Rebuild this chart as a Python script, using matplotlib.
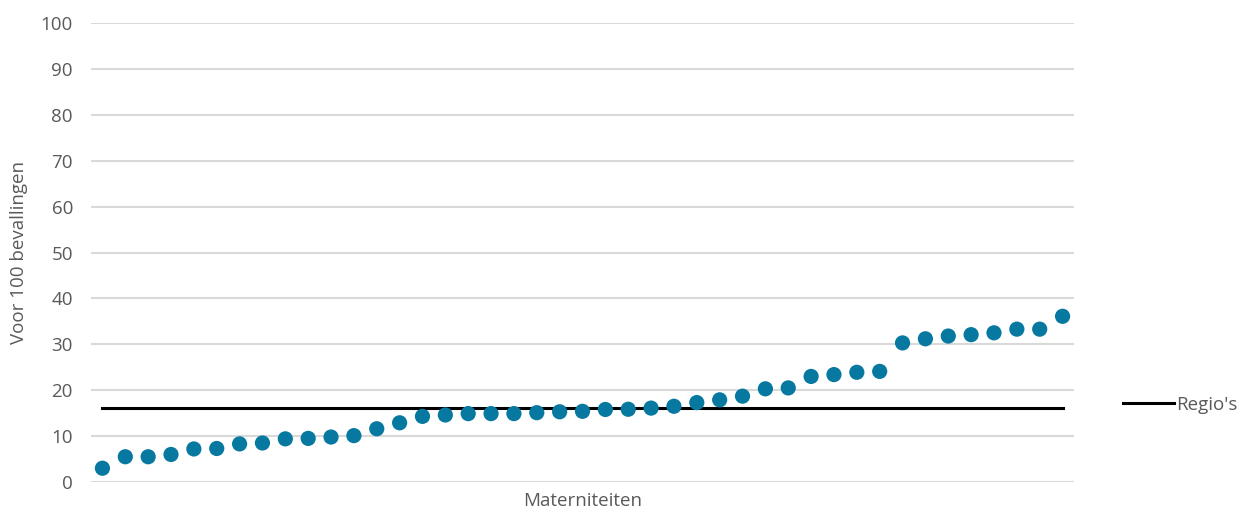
import matplotlib as mpl
mpl.use('Agg')
import matplotlib.pyplot as plt
import numpy as np

plt.rcParams['font.family'] = ['Open Sans', 'DejaVu Sans']

# percentage per maternity ward, sorted ascending
waarden = [3.0, 5.5, 5.5, 6.0, 7.2, 7.3, 8.3, 8.5, 9.4, 9.5,
           9.8, 10.1, 11.6, 12.9, 14.3, 14.6, 14.9, 14.9, 14.9, 15.1,
           15.3, 15.4, 15.8, 15.85, 16.1, 16.5, 17.3, 17.9, 18.7, 20.3,
           20.5, 23.0, 23.4, 23.9, 24.1, 30.3, 31.2, 31.8, 32.1, 32.5,
           33.3, 33.3, 36.1]
regio = 16.2
y_ticks = [0, 10, 20, 30, 40, 50, 60, 70, 80, 90, 100]

tekst_kleur = '#595959'
punt_kleur = '#0779A1'
fs = 13.5

fig = plt.figure(figsize=(12.57, 5.09), dpi=100)
ax = fig.add_axes([91 / 1257, 1 - 482 / 509, (1074 - 91) / 1257, (482 - 23) / 509])

x = np.arange(len(waarden))
ax.plot([x[0], x[-1]], [regio, regio], color='black', linewidth=2.2, label="Regio's", zorder=2)
ax.scatter(x, waarden, s=120, color=punt_kleur, edgecolors='none', zorder=3)

ax.set_xlim(-0.5, len(waarden) - 0.5)
ax.set_ylim(0, 100)
ax.set_yticks(y_ticks)
ax.set_xticks([])
ax.yaxis.grid(True, color='#D9D9D9', linewidth=1.5)
ax.set_axisbelow(True)
for s in ax.spines.values():
    s.set_visible(False)
ax.tick_params(axis='y', length=0, pad=13, labelsize=fs, labelcolor=tekst_kleur)

ax.set_ylabel('Voor 100 bevallingen', fontsize=fs, color=tekst_kleur, labelpad=9)
ax.set_xlabel('Materniteiten', fontsize=fs, color=tekst_kleur, labelpad=7)

leg = ax.legend(loc='center left', bbox_to_anchor=(1115 / 1257, 1 - 405 / 509),
                bbox_transform=fig.transFigure, frameon=False, fontsize=fs,
                handlelength=2.77, handletextpad=0.1, borderaxespad=0)
for t in leg.get_texts():
    t.set_color(tekst_kleur)

fig.savefig('out.png', dpi=100, facecolor='white')
